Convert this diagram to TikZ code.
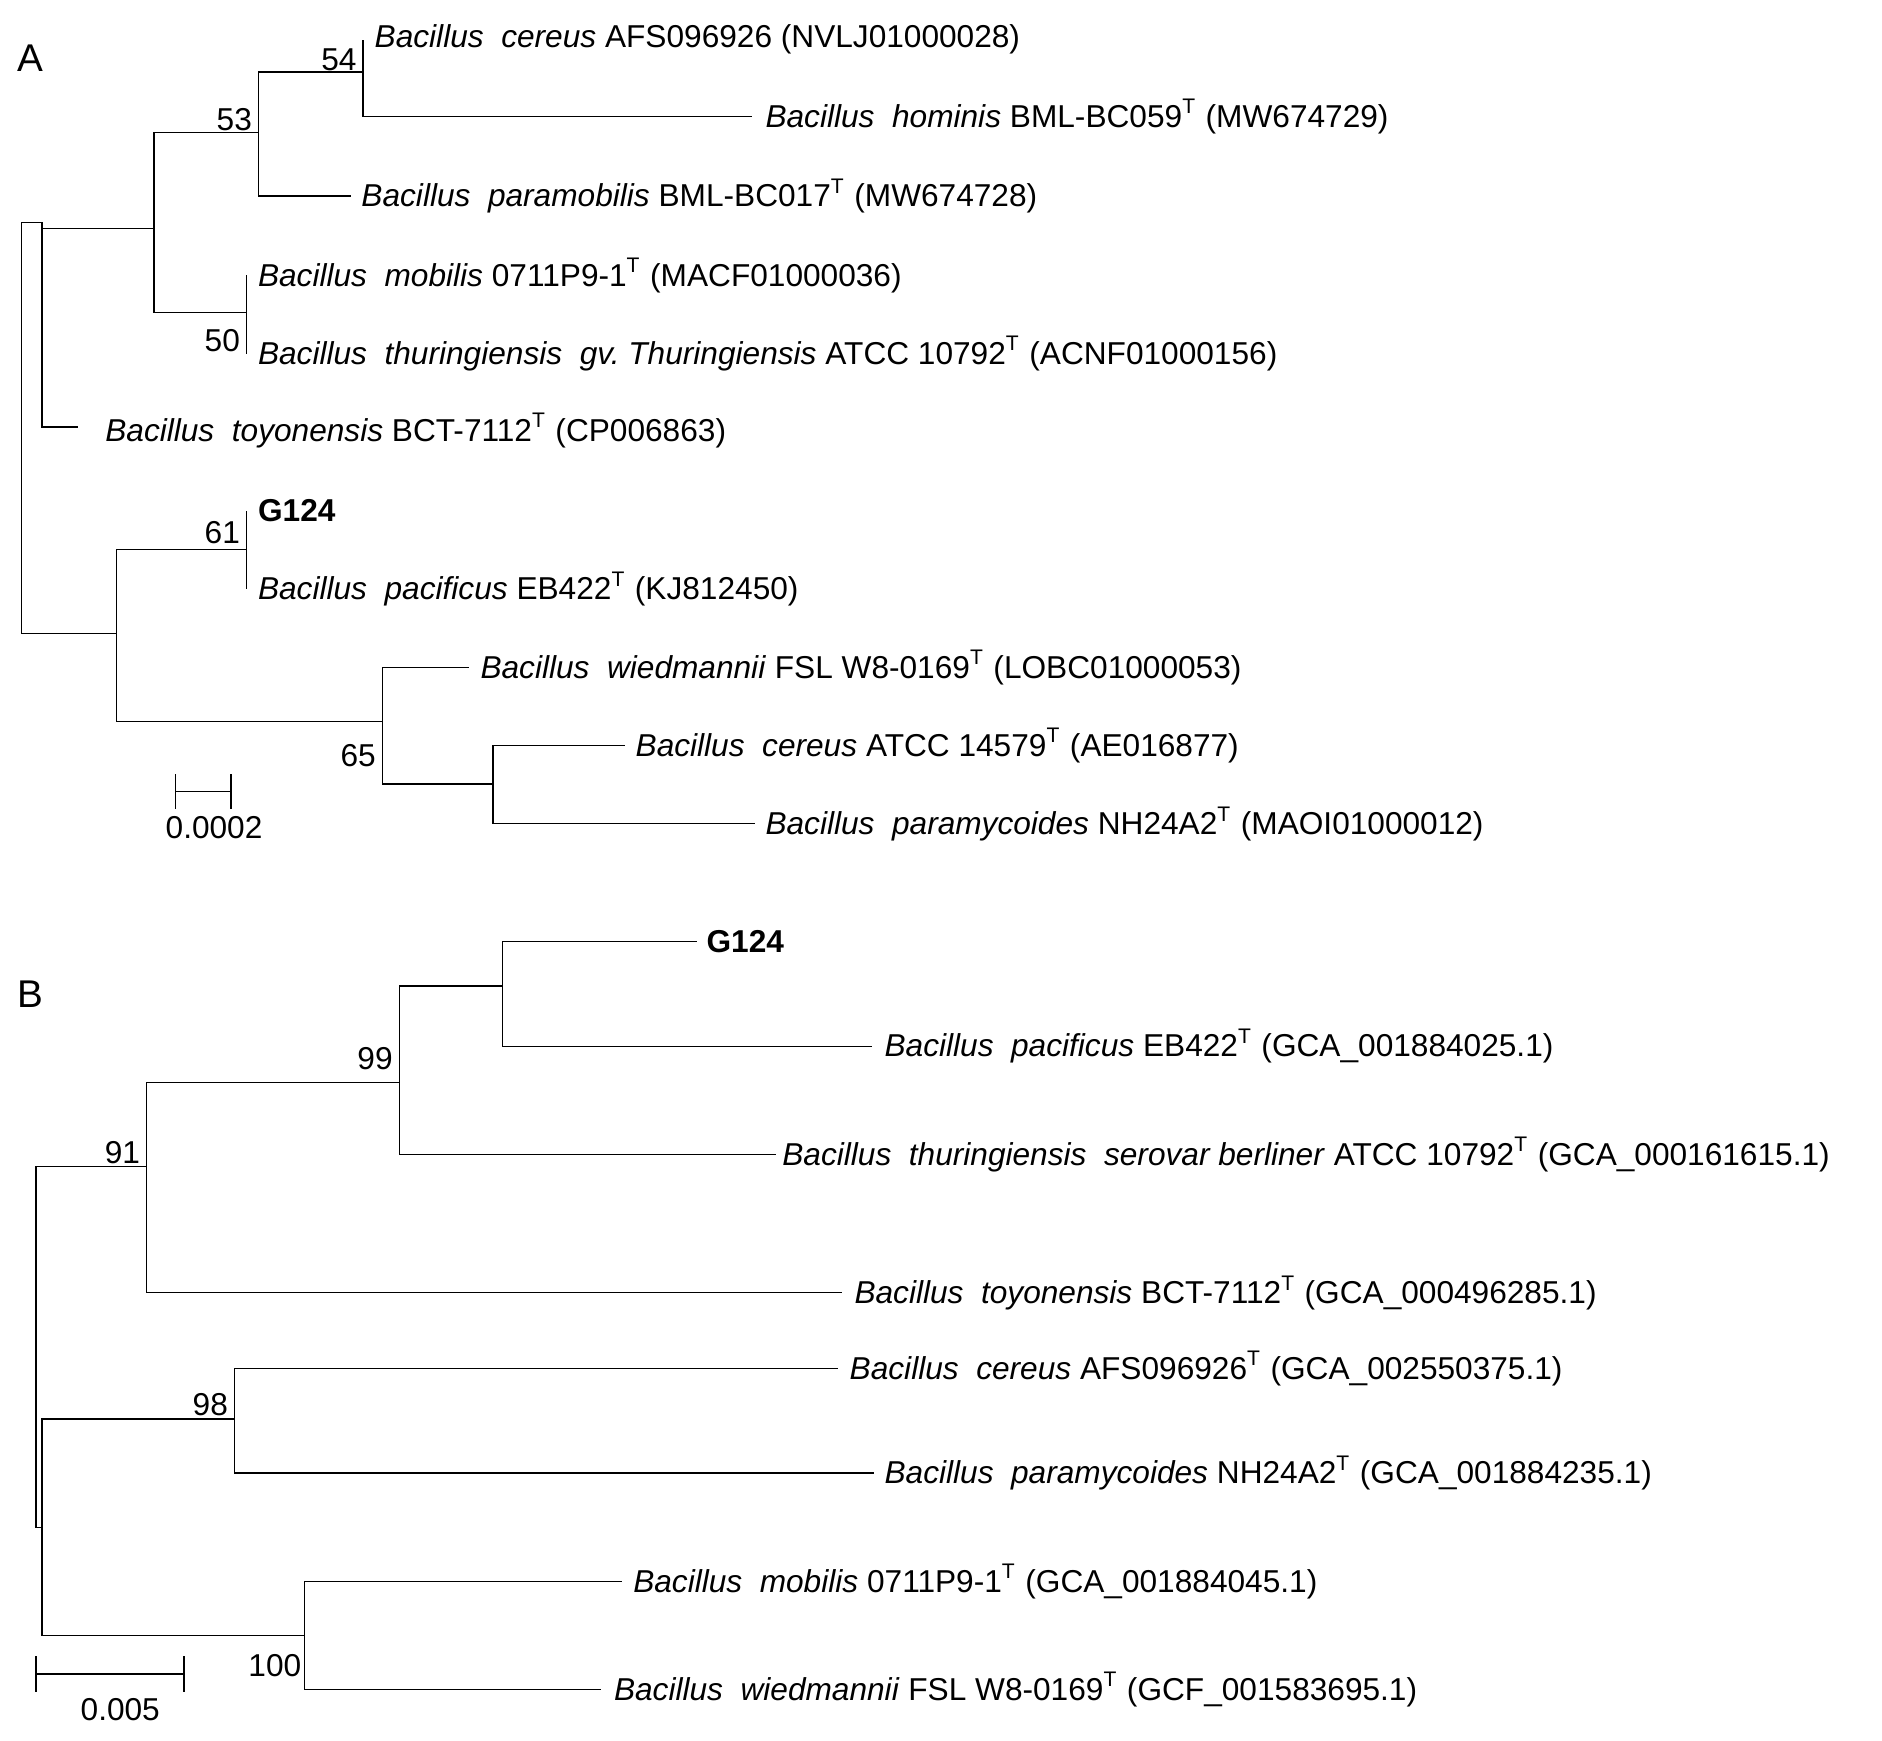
\documentclass[tikz,border=0pt]{standalone}
\usepackage{fontspec}
\setmainfont{Liberation Sans}
\usepackage{tikz}
\tikzset{
  lbl/.style={anchor=west,inner sep=0pt,font=\fontsize{9}{10}\selectfont},
  bs/.style={anchor=south east,inner sep=1pt,font=\fontsize{9}{10}\selectfont},
  br/.style={line width=0.4pt}
}
\newcommand{\spname}[1]{\textit{#1}}
\begin{document}
\begin{tikzpicture}[x=0.012026cm,y=-0.012026cm]
\useasboundingbox (0,0) rectangle (1565,1447);
% tree A
\node[lbl,font=\fontsize{11}{12}\selectfont] (labA) at (14,48) {A};
\coordinate (a0) at (18,400);
\coordinate (a1) at (35,185);
\coordinate (a2) at (128,190);
\coordinate (a3) at (215,110);
\coordinate (a4) at (302,60);
\coordinate (a5) at (205,260);
\coordinate (a6) at (97,527);
\coordinate (a7) at (205,457);
\coordinate (a8) at (318,600);
\coordinate (a9) at (410,652);
\coordinate (l1) at (302,33);
\coordinate (l2) at (625,97);
\coordinate (l3) at (292,163);
\coordinate (l4) at (205,229);
\coordinate (l5) at (205,294);
\coordinate (l6) at (65,355);
\coordinate (l7) at (205,425);
\coordinate (l8) at (205,490);
\coordinate (l9) at (390,555);
\coordinate (l10) at (520,620);
\coordinate (l11) at (628,685);
\draw[br] (a0) |- (a1); \draw[br] (a0) |- (a6);
\draw[br] (a1) |- (a2); \draw[br] (a1) |- (l6);
\draw[br] (a2) |- (a3); \draw[br] (a2) |- (a5);
\draw[br] (a3) |- (a4); \draw[br] (a3) |- (l3);
\draw[br] (a4) |- (l1); \draw[br] (a4) |- (l2);
\draw[br] (a5) |- (l4); \draw[br] (a5) |- (l5);
\draw[br] (a6) |- (a7); \draw[br] (a6) |- (a8);
\draw[br] (a7) |- (l7); \draw[br] (a7) |- (l8);
\draw[br] (a8) |- (l9); \draw[br] (a8) |- (a9);
\draw[br] (a9) |- (l10); \draw[br] (a9) |- (l11);
\node[lbl] (t1) at (311,33) {\spname{Bacillus\ \ cereus} AFS096926 (NVLJ01000028)};
\node[lbl] (t2) at (636,97) {\spname{Bacillus\ \ hominis} BML-BC059\textsuperscript{T} (MW674729)};
\node[lbl] (t3) at (300,163) {\spname{Bacillus\ \ paramobilis} BML-BC017\textsuperscript{T} (MW674728)};
\node[lbl] (t4) at (214,229) {\spname{Bacillus\ \ mobilis} 0711P9-1\textsuperscript{T} (MACF01000036)};
\node[lbl] (t5) at (214,294) {\spname{Bacillus\ \ thuringiensis\ \ gv.\ Thuringiensis} ATCC 10792\textsuperscript{T} (ACNF01000156)};
\node[lbl] (t6) at (87,358) {\spname{Bacillus\ \ toyonensis} BCT-7112\textsuperscript{T} (CP006863)};
\node[lbl] (t7) at (214,425) {\textbf{G124}};
\node[lbl] (t8) at (214,490) {\spname{Bacillus\ \ pacificus} EB422\textsuperscript{T} (KJ812450)};
\node[lbl] (t9) at (399,555) {\spname{Bacillus\ \ wiedmannii} FSL W8-0169\textsuperscript{T} (LOBC01000053)};
\node[lbl] (t10) at (528,620) {\spname{Bacillus\ \ cereus} ATCC 14579\textsuperscript{T} (AE016877)};
\node[lbl] (t11) at (636,685) {\spname{Bacillus\ \ paramycoides} NH24A2\textsuperscript{T} (MAOI01000012)};
\node[bs] (s54) at (300,62) {54};
\node[bs] (s53) at (213,112) {53};
\node[bs] (s50) at (203,296) {50};
\node[bs] (s61) at (203,456) {61};
\node[bs] (s65) at (316,641) {65};
\coordinate (sa1) at (146,658);
\coordinate (sa2) at (192,658);
\draw[br] (sa1) -- (sa2);
\draw[br] ([yshift=-5]sa1) -- ([yshift=5]sa1);
\draw[br] ([yshift=-5]sa2) -- ([yshift=5]sa2);
\node[lbl,anchor=center] (sca) at (178,688) {0.0002};
% tree B
\node[lbl,font=\fontsize{11}{12}\selectfont] (labB) at (14,827) {B};
\coordinate (b0) at (30,1100);
\coordinate (b1) at (122,970);
\coordinate (b2) at (332,900);
\coordinate (b3) at (418,820);
\coordinate (b4) at (35,1270);
\coordinate (b5) at (195,1180);
\coordinate (b6) at (253,1360);
\coordinate (m1) at (580,783);
\coordinate (m2) at (725,870);
\coordinate (m3) at (645,960);
\coordinate (m4) at (700,1075);
\coordinate (m5) at (697,1138);
\coordinate (m6) at (727,1225);
\coordinate (m7) at (517,1315);
\coordinate (m8) at (500,1405);
\draw[br] (b0) |- (b1); \draw[br] (b0) |- (b4);
\draw[br] (b1) |- (b2); \draw[br] (b1) |- (m4);
\draw[br] (b2) |- (b3); \draw[br] (b2) |- (m3);
\draw[br] (b3) |- (m1); \draw[br] (b3) |- (m2);
\draw[br] (b4) |- (b5); \draw[br] (b4) |- (b6);
\draw[br] (b5) |- (m5); \draw[br] (b5) |- (m6);
\draw[br] (b6) |- (m7); \draw[br] (b6) |- (m8);
\node[lbl] (u1) at (587,783) {\textbf{G124}};
\node[lbl] (u2) at (735,870) {\spname{Bacillus\ \ pacificus} EB422\textsuperscript{T} (GCA\_001884025.1)};
\node[lbl] (u3) at (650,960) {\spname{Bacillus\ \ thuringiensis\ \ serovar\ berliner} ATCC 10792\textsuperscript{T} (GCA\_000161615.1)};
\node[lbl] (u4) at (710,1075) {\spname{Bacillus\ \ toyonensis} BCT-7112\textsuperscript{T} (GCA\_000496285.1)};
\node[lbl] (u5) at (706,1138) {\spname{Bacillus\ \ cereus} AFS096926\textsuperscript{T} (GCA\_002550375.1)};
\node[lbl] (u6) at (735,1225) {\spname{Bacillus\ \ paramycoides} NH24A2\textsuperscript{T} (GCA\_001884235.1)};
\node[lbl] (u7) at (526,1315) {\spname{Bacillus\ \ mobilis} 0711P9-1\textsuperscript{T} (GCA\_001884045.1)};
\node[lbl] (u8) at (510,1405) {\spname{Bacillus\ \ wiedmannii} FSL W8-0169\textsuperscript{T} (GCF\_001583695.1)};
\node[bs] (s91) at (120,971) {91};
\node[bs] (s99) at (330,893) {99};
\node[bs] (s98) at (193,1181) {98};
\node[bs] (s100) at (254,1398) {100};
\coordinate (sb1) at (30,1392);
\coordinate (sb2) at (153,1392);
\draw[br] (sb1) -- (sb2);
\draw[br] ([yshift=-5]sb1) -- ([yshift=5]sb1);
\draw[br] ([yshift=-5]sb2) -- ([yshift=5]sb2);
\node[lbl,anchor=center] (scb) at (100,1422) {0.005};
\end{tikzpicture}
\end{document}
